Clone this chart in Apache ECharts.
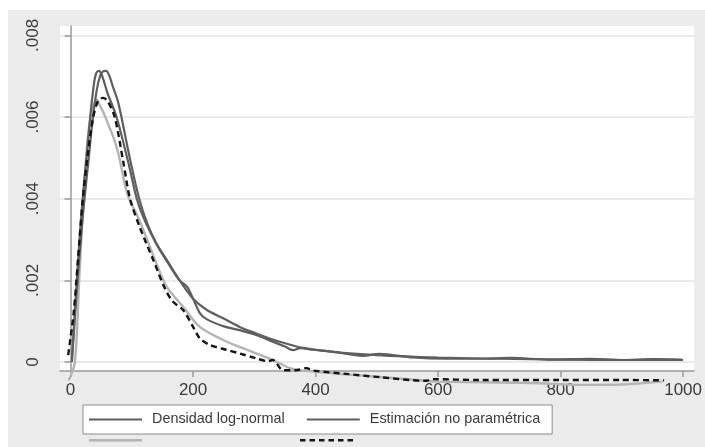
<!DOCTYPE html>
<html>
<head>
<meta charset="utf-8">
<script src="https://cdn.jsdelivr.net/npm/echarts@6/dist/echarts.min.js"></script>
<style>html,body{margin:0;padding:0;background:#fff}#c{width:705px;height:447px}</style>
</head>
<body>
<div id="c"></div>
<script>
// ---- data ----
const seriesNames = ['Densidad log-normal', 'Estimación no paramétrica', ' ', '  '];

const logNormal = [
  [2,0],[8,0.0013],[15,0.0027],[22,0.0039],[29,0.0049],[35,0.0058],[42,0.0066],[48,0.00700],
  [53,0.00712],[58,0.00713],[63,0.00702],[70,0.0067],[77,0.0064],[83,0.0060],[98,0.0049],
  [112,0.0040],[125,0.0034],[140,0.0029],[157,0.0025],[178,0.0020],[200,0.00155],[222,0.00128],
  [249,0.00107],[276,0.00086],[303,0.00070],[330,0.00055],[357,0.00043],[374,0.00036],
  [428,0.00025],[500,0.00017],[600,0.00011],[700,0.00008],[800,0.00006],[900,0.00005],[1000,0.00005]
];
const noParam = [
  [2,0],[8,0.0015],[15,0.0031],[22,0.0044],[26,0.0050],[32,0.0060],[38,0.0068],[42,0.00708],
  [46,0.00713],[51,0.00703],[60,0.0066],[75,0.0060],[94,0.0049],[108,0.0040],[120,0.0035],
  [140,0.0029],[160,0.0024],[178,0.0020],[190,0.00185],[200,0.00155],[211,0.00120],[222,0.00105],
  [249,0.00088],[276,0.00078],[303,0.00066],[330,0.00050],[350,0.00038],[363,0.00029],[375,0.00034],
  [396,0.00030],[430,0.00025],[477,0.00015],[504,0.00020],[559,0.00011],[613,0.00008],[667,0.00008],
  [720,0.00010],[780,0.00006],[850,0.00008],[900,0.00005],[950,0.00007],[998,0.00006]
];
const lightGray = [
  [-3,-0.00045],[7,0],[14,0.0020],[21,0.0040],[28,0.0055],[34,0.0061],[38,0.0063],[42.5,0.00643],
  [47,0.0063],[54,0.0061],[62,0.0058],[70,0.0055],[78,0.0051],[93,0.0041],[113,0.00345],
  [140,0.00242],[157,0.00184],[184,0.00135],[211,0.00086],[249,0.00054],[276,0.00037],
  [303,0.00021],[330,0.00005],[358,-0.00015],[374,-0.00020],[430,-0.00028],[500,-0.00036],
  [580,-0.00046],[600,-0.00048],[700,-0.00050],[766,-0.00052],[835,-0.00056],[900,-0.00055],[966,-0.00048]
];
const dashed = [
  [-4,0.00017],[5,0.0012],[12,0.0025],[20,0.0040],[29,0.0052],[37,0.0060],[45,0.0064],[53,0.00647],
  [60,0.0064],[72,0.0060],[86,0.0049],[97,0.0040],[113,0.0033],[135,0.0025],[154,0.0018],
  [167,0.00148],[184,0.00127],[200,0.00086],[211,0.00058],[227,0.00042],[254,0.00030],[276,0.00021],
  [303,0.00009],[322,0.00002],[330,0.00005],[347,-0.00020],[368,-0.00020],[385,-0.00015],
  [396,-0.00021],[450,-0.00029],[504,-0.00037],[580,-0.00046],[591,-0.00042],[667,-0.00044],
  [800,-0.00044],[900,-0.00044],[969,-0.00045]
];

const xTicks = [0, 200, 400, 600, 800, 1000];
const yTicks = [0, 0.002, 0.004, 0.006, 0.008];
const yTickLabels = ['0', '.002', '.004', '.006', '.008'];

const chart = echarts.init(document.getElementById('c'), null, {renderer: 'canvas'});
const font = 'Liberation Sans, Arial, Helvetica, sans-serif';
const axisGray = '#9a9a9a';
const darkLine = '#5e5e5e';
const lightLine = '#b4b4b4';
const dashColor = '#141414';

// legend icon for a dashed line (6 dashes), drawn as a filled path
function dashIcon(n, dash, gap, h) {
  let p = 'path://';
  for (let i = 0; i < n; i++) { const x = i * (dash + gap); p += `M${x} 0h${dash}v${h}h-${dash}z`; }
  return p;
}

chart.setOption({
  animation: false,
  backgroundColor: '#ffffff',
  graphic: {elements: [{type: 'rect', left: 8, top: 10, z: -100, silent: true,
    shape: {width: 697, height: 437}, style: {fill: '#ebebeb'}}]},
  grid: {left: 60, right: 10, top: 26, bottom: 76, show: true, backgroundColor: '#ffffff', borderWidth: 0},
  xAxis: {
    type: 'value', min: -17.3, max: 1017.9,
    axisLine: {show: true, onZero: false, lineStyle: {color: axisGray, width: 1.5}},
    axisTick: {show: true, length: 6, customValues: xTicks, lineStyle: {color: axisGray, width: 1.5}},
    axisLabel: {customValues: xTicks, margin: 11, fontFamily: font, fontSize: 17, color: '#3a3a3a',
      formatter: v => String(v)},
    splitLine: {show: false}
  },
  yAxis: {
    type: 'value', min: -0.00022, max: 0.00823,
    axisLine: {show: true, lineStyle: {color: axisGray, width: 1.5}},
    axisTick: {show: true, length: 6, customValues: yTicks, lineStyle: {color: axisGray, width: 1.5}},
    axisLabel: {customValues: yTicks, rotate: 90, margin: 18, fontFamily: font, fontSize: 17, color: '#3a3a3a',
      formatter: v => yTickLabels[yTicks.findIndex(t => Math.abs(t - v) < 1e-9)] ?? ''},
    splitLine: {show: true, lineStyle: {color: '#eaeaea', width: 2}}
  },
  legend: [
    {data: [{name: seriesNames[0], icon: 'rect'}, {name: seriesNames[1], icon: 'rect'}],
     left: 83, top: 405, orient: 'horizontal',
     itemWidth: 53, itemHeight: 2.2, itemGap: 22, selectedMode: false,
     padding: [7, 12, 7, 6], borderColor: '#8c8c8c', borderWidth: 1, backgroundColor: '#ffffff',
     textStyle: {fontFamily: font, fontSize: 14.4, color: '#3a3a3a', lineHeight: 15, padding: [0, 0, 0, 5]}},
    {data: [{name: seriesNames[2], icon: 'rect'}, {name: seriesNames[3], icon: dashIcon(6, 5.5, 4, 2.5)}],
     left: 83, top: 439, orient: 'horizontal',
     itemWidth: 53, itemHeight: 2.5, itemGap: 158, selectedMode: false, padding: [0, 0, 0, 6],
     formatter: () => '', textStyle: {fontSize: 1}}
  ],
  series: [
    {name: seriesNames[0], type: 'line', data: logNormal, symbol: 'none', smooth: 0.3, clip: false,
     lineStyle: {color: darkLine, width: 2.2}, itemStyle: {color: darkLine}, z: 3},
    {name: seriesNames[1], type: 'line', data: noParam, symbol: 'none', smooth: 0.3, clip: false,
     lineStyle: {color: darkLine, width: 2.2}, itemStyle: {color: darkLine}, z: 3},
    {name: seriesNames[2], type: 'line', data: lightGray, symbol: 'none', smooth: 0.3, clip: false,
     lineStyle: {color: lightLine, width: 2.4}, itemStyle: {color: lightLine}, z: 2},
    {name: seriesNames[3], type: 'line', data: dashed, symbol: 'none', smooth: 0.3, clip: false,
     lineStyle: {color: dashColor, width: 2.4, type: [6, 4]}, itemStyle: {color: dashColor}, z: 4}
  ]
});
</script>
</body>
</html>
